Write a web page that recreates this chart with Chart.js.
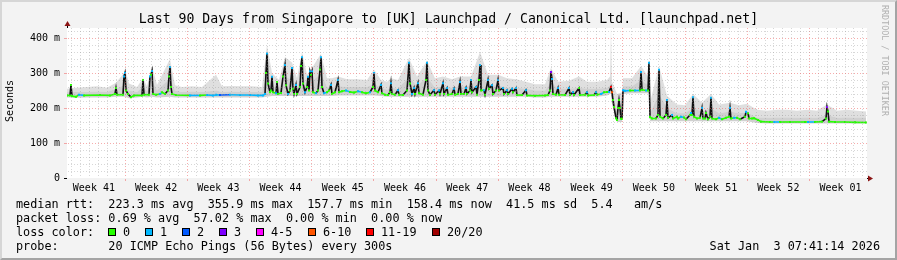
<!DOCTYPE html>
<html><head><meta charset="utf-8">
<script src="https://cdn.jsdelivr.net/npm/chart.js@4.4.1/dist/chart.umd.min.js"></script>
<style>
html,body{margin:0;padding:0;background:#f3f3f3;}
#wrap{position:relative;width:897px;height:260px;overflow:hidden;font-family:"DejaVu Sans Mono",monospace;color:#000;}
#frame{position:absolute;left:0;top:0;width:893px;height:256px;border:2px solid;border-color:#d6d6d6 #a4a4a4 #a4a4a4 #d6d6d6;pointer-events:none;}
canvas{position:absolute;left:0;top:0;}
.t{position:absolute;white-space:pre;line-height:14px;font-size:11.8px;}
.sq{position:absolute;width:6px;height:6px;border:1px solid #000;top:228px;}
</style>
</head><body>
<div id="wrap">
<canvas id="c" width="897" height="260" style="width:897px;height:260px"></canvas>
<div class="t" style="left:0;width:897px;top:11px;text-align:center;font-size:13.2px;line-height:16px">Last 90 Days from Singapore to [UK] Launchpad / Canonical Ltd. [launchpad.net]</div>
<div class="t" style="left:-20px;top:95px;width:60px;text-align:center;font-size:10px;line-height:12px;transform:rotate(-90deg)">Seconds</div>
<div class="t" style="left:880px;top:5px;font-size:8.4px;line-height:10px;writing-mode:vertical-rl;color:#b0b0b0">RRDTOOL / TOBI OETIKER</div>
<div class="t" style="left:16px;top:197px">median rtt:  223.3 ms avg  355.9 ms max  157.7 ms min  158.4 ms now  41.5 ms sd  5.4   am/s</div>
<div class="t" style="left:16px;top:211px">packet loss: 0.69 % avg  57.02 % max  0.00 % min  0.00 % now</div>
<div class="t" style="left:16px;top:225px">loss color:</div>
<div id="losslegend"></div>
<div class="t" style="left:16px;top:239px">probe:       20 ICMP Echo Pings (56 Bytes) every 300s</div>
<div class="t" style="right:17px;top:239px">Sat Jan  3 07:41:14 2026</div>
<div id="frame"></div>
</div>
<script>
// ---- time axis: RRD row index, one row = 2.7 h, 800 rows = 90 days ----
const sampleRow = [
  0,3,4,5,9,12,17,33,43,48, 49,50,56,57,58,59,61,64,67,75, 76,77,82,83,84,85,86,89,93,95, 98,101,102,103,104,105,109,123,133,140, 146,149,153,163,173,183,191,196,
  198,199,200,201,203,204,205,206,209,210, 211,214,216,218,219,221,223,225,226,227, 229,230,233,234,235,236,238,240,241,242, 243,244,245,246,249,251,253,254,255,257, 260,262,264,265,268,271,272,275,279,283, 287,291,295,299,303,306,307,308,311,314, 315,318,
  321,323,324,325,328,331,332,336,340,342, 343,345,347,348,351,352,356,359,360,361, 363,367,368,372,373,376,377,380,381,385, 387,388,391,393,394,397,399,400,403,404, 405,409,410,412,413,414,417,418,421,422, 425,426,429,431,432,436,437,440,441,445, 446,449,450,455,459,460,468,478,
  481,483,484,485,486,489,491,492,498,502, 503,506,507,512,513,518,520,521,527,529, 530,534,537,540,542,544,545,546,547,549, 550,551,552,553,554,555,556,558,563,568, 573,574,575,579,581,582,583,585,589,591, 592,593,596,599,600,601,605,606,610,611, 614,617,619,623,624,625,626,627,630,633, 635,636,
  638,639,641,643,644,645,649,652,655,659, 662,663,664,667,670,673,678,679,681,682, 685,687,691,694,703,707,713,723,738,741, 748,755,759,760,761,762,768,778,788,799
];
// median round-trip time (ms)
const medianMs = [
  236,236,266,234,232,238,236,237,236,240, 257,238,238,290,300,250,240,231,236,236, 280,238,238,290,295,306,240,238,240,245, 240,250,290,317,260,240,237,236,236,237, 236,238,237,238,237,237,236,236,
  240,300,356,270,245,250,289,245,242,274, 240,243,290,323,265,240,250,314,255,240, 266,240,260,320,345,270,245,260,289,250, 305,295,305,245,242,250,310,345,260,242, 245,250,266,240,245,280,245,248,250,246, 244,248,245,242,245,260,300,250,245,266, 242,238,
  237,245,271,240,238,251,238,237,250,329, 270,240,257,240,271,242,238,280,329,250, 238,251,238,250,240,271,240,257,238,240, 255,238,240,274,240,240,257,240,250,280, 245,260,238,280,323,250,251,238,280,255, 265,240,250,280,250,257,240,251,240,255, 245,257,237,237,251,236,235,236,
  237,250,303,283,240,238,257,238,237,257, 238,245,237,257,237,238,245,236,237,245, 238,240,245,246,246,260,245,223,203,171, 166,200,223,200,169,169,251,249,250,250, 250,303,252,250,250,329,174,170,170,180, 309,175,170,180,223,172,180,170,175,170, 175,173,168,180,186,180,231,175,170,172, 200,170,
  170,186,168,175,229,170,168,172,168,172, 175,200,170,172,172,168,175,189,185,170, 170,171,166,161,160,160,160,160,160,160, 160,161,170,203,190,161,160,160,159,158.4
];
// lost pings out of 20 (bucket upper bound)
const lostPings = [
  0,0,0,0,0,1,0,0,0,0, 0,0,0,1,1,0,0,0,0,0, 0,0,0,1,0,1,0,0,1,0, 0,0,0,1,0,0,0,1,0,1, 1,1,2,1,1,1,1,1,
  1,0,1,0,0,0,1,0,1,0, 0,0,0,1,0,1,0,1,0,0, 1,0,0,0,1,0,1,0,1,0, 1,0,1,0,1,0,0,1,0,1, 0,0,1,0,0,1,0,0,1,0, 0,1,0,0,1,0,1,0,0,1, 0,0,
  0,0,1,0,0,1,0,0,0,1, 0,1,1,0,1,0,0,0,1,0, 0,1,0,1,0,1,0,1,0,0, 1,0,0,1,0,0,1,0,0,1, 0,1,0,0,1,0,1,0,1,0, 1,0,0,1,0,1,0,1,0,1, 0,1,0,0,1,0,0,0,
  0,0,3,1,0,0,1,0,0,1, 0,1,0,0,0,0,1,0,0,1, 0,1,0,0,1,19,10,0,0,0, 0,0,0,0,0,0,1,1,0,1, 0,1,0,1,0,1,0,0,0,0, 1,0,0,0,1,0,1,0,0,0, 1,0,0,0,1,0,1,0,0,0, 1,0,
  0,0,0,0,1,0,0,1,0,0, 0,1,0,1,0,0,0,1,0,0, 0,0,0,0,0,1,0,0,0,1, 0,0,0,3,0,0,0,0,0,0
];
// smoke (spread of the 20 pings)
const smokeRow = [0,10,20,30,40,49,57,58,62,70,76,80,85,90,103,108,115,125,135,149,155,165,175,185,195,
  200,205,212,218,225,230,235,240,245,254,260,265,271,280,290,300,307,314,
  320,324,331,342,350,360,368,376,385,393,404,413,421,431,440,449,459,468,478,
  484,491,502,512,520,530,540,543,544,545,550,555,556,565,574,581,582,583,592,600,610,618,626,635,644,652,663,672,680,
  690,700,710,720,730,740,750,760,770,780,790,799];
const smokeMinMs = [230,229,230,230,230,232,232,232,228,230,232,230,232,230,232,230,230,230,230,230,230,230,230,230,230,
  232,234,234,234,234,234,234,234,234,234,234,234,236,236,236,236,236,234,
  232,232,232,232,232,232,232,232,232,232,232,232,232,232,232,232,232,230,230,
  232,232,232,232,232,232,236,240,240,210,160,160,240,242,242,242,242,162,162,162,162,162,162,162,162,162,162,162,162,
  157,156,156,156,156,156,156,156,156,156,156,156];
const smokeMidMs = [245,246,246,247,246,255,265,275,250,246,262,248,280,250,285,250,246,247,246,250,246,247,246,246,246,
  300,262,258,290,280,258,300,262,275,300,260,258,262,260,260,260,270,258,
  252,258,255,290,262,290,258,262,258,262,262,300,265,265,258,258,255,250,250,
  275,255,255,258,255,255,258,265,300,240,195,200,262,262,280,265,290,185,240,200,185,185,200,190,200,185,190,185,188,
  172,172,173,173,172,173,172,180,172,173,172,172];
const smokeMaxMs = [255,258,260,262,258,272,300,312,270,260,285,262,320,266,340,265,260,262,260,295,262,263,262,262,260,
  380,300,280,346,330,285,360,295,315,355,285,285,290,282,282,280,310,280,
  275,285,280,343,290,335,285,290,282,290,290,360,295,295,285,282,275,268,268,
  315,275,278,290,275,275,280,290,430,275,240,245,285,285,320,290,340,215,320,235,210,208,240,215,240,210,215,208,212,
  195,192,195,195,192,195,192,210,192,195,192,190];
// axis labels
const weekLabels = ['Week 41','Week 42','Week 43','Week 44','Week 45','Week 46','Week 47','Week 48','Week 49','Week 50','Week 51','Week 52','Week 01'];
const firstWeekStartRow = 58;      // row where "Week 42" begins
const rowsPerDay = 800 / 90;
const yMaxMs = 428.6;
const yLabelMs = [0, 100, 200, 300, 400];

const lossBuckets = [
  {max:0, label:'0', color:'#26ff00'}, {max:1, label:'1', color:'#00b8ff'},
  {max:2, label:'2', color:'#0059ff'}, {max:3, label:'3', color:'#7e00ff'},
  {max:5, label:'4-5', color:'#ff00ff'}, {max:10, label:'6-10', color:'#ff5500'},
  {max:19, label:'11-19', color:'#ff0000'}, {max:20, label:'20/20', color:'#a00000'}
];
function lossColor(n){ for (const b of lossBuckets) if (n <= b.max) return b.color; return '#a00000'; }

// HTML loss colour legend
const sqX = [108,145,182,219,256,308,366,432];
const ll = document.getElementById('losslegend');
lossBuckets.forEach((b,i)=>{
  const s = document.createElement('div'); s.className='sq'; s.style.left=sqX[i]+'px'; s.style.background=b.color; ll.appendChild(s);
  const t = document.createElement('div'); t.className='t'; t.style.left=(sqX[i]+15)+'px'; t.style.top='225px'; t.textContent=b.label; ll.appendChild(t);
});

const GRID_MINOR = 'rgba(150,150,150,0.38)';
const GRID_MAJOR = 'rgba(240,90,90,0.5)';

const xy = (xs, ys) => xs.map((x,i)=>({x, y: ys[i]}));

const bgPlugin = {
  id:'bg',
  beforeDraw(chart){
    const {ctx, chartArea:a} = chart;
    ctx.save(); ctx.fillStyle='#ffffff'; ctx.fillRect(a.left, a.top, a.right-a.left, a.bottom-a.top); ctx.restore();
  },
  afterDraw(chart){
    const {ctx, chartArea:a} = chart;
    ctx.save();
    ctx.strokeStyle='#000'; ctx.lineWidth=1;
    ctx.beginPath(); ctx.moveTo(a.left+0.5, a.top); ctx.lineTo(a.left+0.5, a.top-3); ctx.stroke();
    ctx.beginPath(); ctx.moveTo(a.left-3, a.bottom+0.5); ctx.lineTo(a.left, a.bottom+0.5); ctx.moveTo(a.right, a.bottom+0.5); ctx.lineTo(a.right+1, a.bottom+0.5); ctx.stroke();
    ctx.fillStyle='#8b1414';
    ctx.beginPath(); ctx.moveTo(a.right+1, a.bottom-2.5); ctx.lineTo(a.right+6, a.bottom+0.5); ctx.lineTo(a.right+1, a.bottom+3.5); ctx.closePath(); ctx.fill();
    ctx.beginPath(); ctx.moveTo(a.left-2.5, a.top-2); ctx.lineTo(a.left+0.5, a.top-7); ctx.lineTo(a.left+3.5, a.top-2); ctx.closePath(); ctx.fill();
    ctx.restore();
  }
};

new Chart(document.getElementById('c'), {
  type:'line',
  data:{ datasets:[
    {label:'smoke min', data: xy(smokeRow, smokeMinMs), borderColor:'rgba(0,0,0,0)', borderWidth:0, pointRadius:0, fill:false, order:3, tension:0},
    {label:'smoke inner', data: xy(smokeRow, smokeMidMs), borderColor:'rgba(0,0,0,0)', borderWidth:0, pointRadius:0, fill:'-1', backgroundColor:'rgba(120,120,120,0.35)', order:2, tension:0},
    {label:'smoke outer', data: xy(smokeRow, smokeMaxMs), borderColor:'rgba(0,0,0,0)', borderWidth:0, pointRadius:0, fill:'-1', backgroundColor:'rgba(150,150,150,0.3)', order:1, tension:0},
    {label:'median', data: xy(sampleRow, medianMs), borderWidth:1.6, tension:0, fill:false, order:0,
      borderColor:'#000',
      segment:{ borderColor: c => Math.abs(c.p1.parsed.y - c.p0.parsed.y) > 6 ? '#111' : lossColor(lostPings[c.p0DataIndex]) },
      pointStyle:'rect', pointRadius:1.4, pointBorderWidth:0,
      pointBackgroundColor: c => lossColor(lostPings[c.dataIndex]) }
  ]},
  options:{
    responsive:false, devicePixelRatio:1, animation:false, events:[],
    layout:{ padding:{left:0, top:28, right:30, bottom:0} },
    plugins:{ legend:{display:false}, tooltip:{enabled:false}, title:{display:false} },
    scales:{
      x:{ type:'linear', min:0, max:800,
        afterFit(s){ s.height = 82; },
        afterBuildTicks(s){
          const t = [];
          for (let d=-6; d<=84; d++){ const v = firstWeekStartRow + d*rowsPerDay; if (v>0.5 && v<799.5) t.push({value:v, kind: (d%7===0)?'week':'day'}); }
          weekLabels.forEach((lab,k)=>{ t.push({value: firstWeekStartRow - 3.5*rowsPerDay + k*7*rowsPerDay, kind:'label', text:lab}); });
          t.sort((a,b)=>a.value-b.value);
          s.ticks = t;
        },
        ticks:{ autoSkip:false, maxRotation:0, minRotation:0, padding:1, color:'#000', font:{family:'DejaVu Sans Mono', size:10},
          callback(v, i, ticks){ const tk = ticks[i]; return tk && tk.kind==='label' ? tk.text : ''; } },
        grid:{ z:1, drawTicks:true, tickLength:3, lineWidth:1,
          color: c => !c.tick ? GRID_MINOR : c.tick.kind==='label' ? 'rgba(0,0,0,0)' : c.tick.kind==='week' ? GRID_MAJOR : GRID_MINOR,
          tickColor: c => (c.tick && c.tick.kind==='week') ? GRID_MAJOR : 'rgba(0,0,0,0)' },
        border:{ display:true, color:'#000', width:1, dash:[1,2] }
      },
      y:{ type:'linear', min:0, max:yMaxMs,
        afterFit(s){ s.width = 67; },
        afterBuildTicks(s){ const t=[]; for (let v=0; v<=420; v+=20) t.push({value:v}); s.ticks = t; },
        ticks:{ autoSkip:false, padding:4, color:'#000', font:{family:'DejaVu Sans Mono', size:10},
          callback(v){ return yLabelMs.includes(v) ? (v===0 ? '0' : v+' m') : ''; } },
        grid:{ z:1, drawTicks:true, tickLength:3, lineWidth:1,
          color: c => (!c.tick || c.tick.value===0) ? 'rgba(0,0,0,0)' : (c.tick.value%100===0 ? GRID_MAJOR : GRID_MINOR),
          tickColor: c => (c.tick && c.tick.value%100===0 && c.tick.value>0) ? GRID_MAJOR : 'rgba(0,0,0,0)' },
        border:{ display:true, color:'#000', width:1, dash:[1,2] }
      }
    }
  },
  plugins:[bgPlugin]
});
</script>
</body></html>
